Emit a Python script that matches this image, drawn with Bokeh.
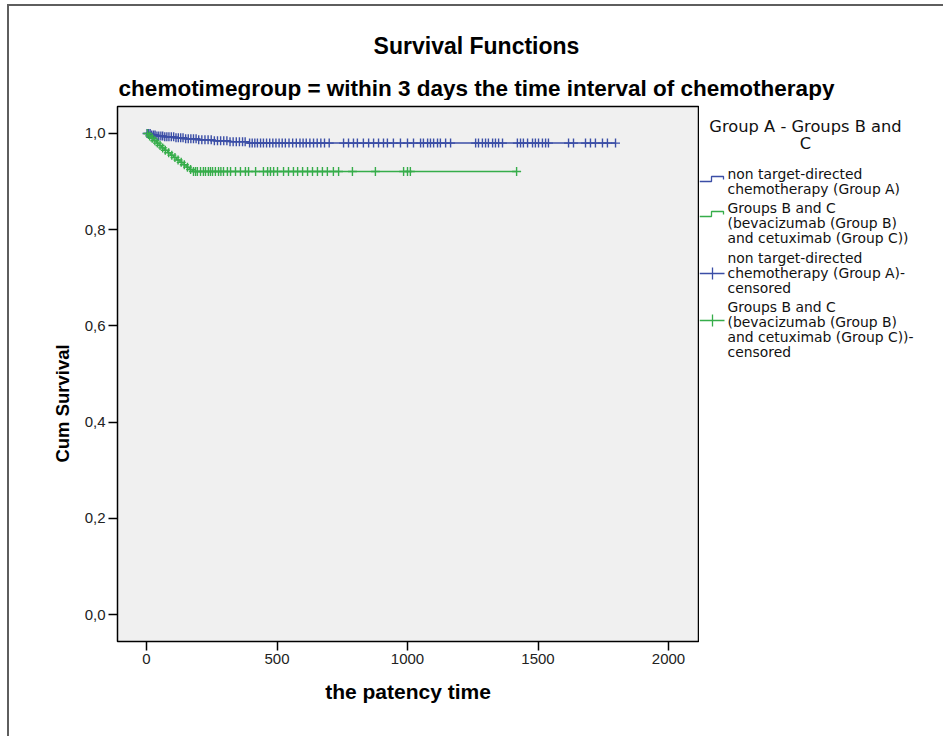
import numpy as np
from bokeh.plotting import figure
from bokeh.layouts import column, row
from bokeh.models import Range1d, FixedTicker, CustomJSTickFormatter
from bokeh.core.properties import value
from bokeh.embed import file_html
from bokeh.resources import INLINE

# ---------------- data ----------------
# Group A: non target-directed chemotherapy -- Kaplan-Meier steps
a_step_time = [0, 15, 40, 70, 110, 150, 200, 260, 320, 385]
a_step_surv = [1.0, 0.997, 0.995, 0.993, 0.991, 0.989, 0.987, 0.985, 0.983, 0.980]
a_censored = [2, 8, 14, 20, 27, 33, 40, 47, 55, 62, 70, 78, 86, 95, 104, 113, 122,
              131, 140, 150, 160, 170, 180, 190, 200, 212, 224, 236, 248, 260, 272,
              284, 296, 308, 320, 332, 344, 356, 368, 378,
              395, 405, 415, 425, 437, 448, 460, 472, 484, 496, 508, 520, 532, 546,
              560, 574, 588, 600, 612, 626, 640, 654, 668, 682, 700, 755, 774, 793,
              808, 831, 851, 870, 889, 908, 923, 946, 973, 1000, 1023, 1050, 1061,
              1077, 1088, 1100, 1115, 1126, 1146, 1165, 1261, 1272, 1287, 1299, 1310,
              1326, 1337, 1349, 1364, 1421, 1433, 1444, 1460, 1479, 1490, 1502, 1517,
              1529, 1540, 1617, 1636, 1682, 1701, 1720, 1747, 1766, 1797]

# Groups B and C: bevacizumab / cetuximab
b_step_time = [0, 8, 18, 28, 38, 48, 58, 68, 80, 92, 104, 116, 128, 140, 152, 164, 176]
b_step_surv = [1.0, 0.995, 0.990, 0.985, 0.980, 0.975, 0.970, 0.965, 0.960, 0.955,
               0.950, 0.945, 0.940, 0.935, 0.930, 0.925, 0.921]
b_censored = [4, 12, 22, 32, 42, 52, 62, 72, 85, 97, 109, 121, 133, 145, 157, 169,
              180, 188, 195, 207, 218, 226, 237, 245, 253, 264, 276, 285, 295, 310,
              322, 341, 360, 379, 391, 418, 448, 464, 475, 487, 502, 525, 544, 563,
              579, 598, 617, 636, 655, 674, 693, 716, 736, 789, 877, 985, 1000, 1011,
              1418]

y_ticks = [0.0, 0.2, 0.4, 0.6, 0.8, 1.0]
x_ticks = [0, 500, 1000, 1500, 2000]

title_text = "Survival Functions"
subtitle_text = "chemotimegroup = within 3 days the time interval of chemotherapy"
x_label = "the patency time"
y_label = "Cum Survival"
legend_title = ["Group A - Groups B and", "C"]
legend_entries = [
    ["non target-directed", "chemotherapy (Group A)"],
    ["Groups B and C", "(bevacizumab (Group B)", "and cetuximab (Group C))"],
    ["non target-directed", "chemotherapy (Group A)-", "censored"],
    ["Groups B and C", "(bevacizumab (Group B)", "and cetuximab (Group C))-", "censored"],
]

BLUE = "#3b4ea6"
GREEN = "#36ad4a"
FONT = "Liberation Sans"
LEGEND_FONT = "DejaVu Sans"

# page pixel geometry (canvas placed at page x=9, y=6)
OX, OY = 9, 6
TOTAL_W = 934
TITLE_H = 94
ROW_TOP = OY + TITLE_H          # 100
ROW_H = 636
YL_RIGHT = 80
MAIN_RIGHT = 699
RIGHT_END = OX + TOTAL_W
BOTTOM = ROW_TOP + ROW_H        # 736
FRAME_L, FRAME_R, FRAME_T, FRAME_B = 117, 698, 106, 641


def blank(x0, x1, width, height, y_top, y_bottom, b_top=0, b_bottom=0):
    f = figure(width=width, height=height, output_backend="svg", toolbar_location=None,
               x_range=Range1d(x0, x1), y_range=Range1d(y_bottom, y_top),
               x_axis_location=None, y_axis_location=None,
               min_border=0, min_border_left=0, min_border_right=0,
               min_border_top=b_top, min_border_bottom=b_bottom)
    f.outline_line_color = None
    f.grid.visible = False
    f.background_fill_color = "white"
    f.border_fill_color = "white"
    return f


# ---------------- title strip ----------------
tf = blank(OX, RIGHT_END, TOTAL_W, TITLE_H, OY, ROW_TOP)
tf.text(x=[476], y=[45], text=[title_text],
        text_align="center", text_baseline="middle", text_font=value(FONT),
        text_font_size="23px", text_font_style="bold", text_color="black")
tf.text(x=[476], y=[88], text=[subtitle_text],
        text_align="center", text_baseline="middle", text_font=value(FONT),
        text_font_size="22.5px", text_font_style="bold", text_color="black")

# ---------------- y label strip (frame aligned with main frame) ----------------
yf = blank(OX, YL_RIGHT, YL_RIGHT - OX, ROW_H, FRAME_T, FRAME_B,
           FRAME_T - ROW_TOP, BOTTOM - FRAME_B)
yf.text(x=[62], y=[403], text=[y_label], angle=np.pi / 2, text_align="center",
        text_baseline="middle", text_font=value(FONT), text_font_size="18.5px",
        text_font_style="bold", text_color="black")

# ---------------- main plot ----------------
X0, X1 = -111.1, 2114.9
Y0, Y1 = -0.0561, 1.0561

p = figure(width=MAIN_RIGHT - YL_RIGHT, height=ROW_H, output_backend="svg",
           toolbar_location=None, x_range=Range1d(X0, X1), y_range=Range1d(Y0, Y1),
           min_border_left=FRAME_L - YL_RIGHT, min_border_right=MAIN_RIGHT - FRAME_R,
           min_border_top=FRAME_T - ROW_TOP, min_border_bottom=BOTTOM - FRAME_B)
p.background_fill_color = "#f0f0f0"
p.border_fill_color = "white"
p.outline_line_color = "black"
p.outline_line_width = 1.5
p.grid.visible = False

p.xaxis.ticker = FixedTicker(ticks=x_ticks)
p.yaxis.ticker = FixedTicker(ticks=y_ticks)
p.yaxis.formatter = CustomJSTickFormatter(code="return tick.toFixed(1).replace('.', ',');")
for ax in (p.xaxis, p.yaxis):
    ax.minor_tick_line_color = None
    ax.major_tick_in = 0
    ax.major_tick_out = 9
    ax.major_tick_line_width = 1.5
    ax.major_tick_line_color = "black"
    ax.axis_line_color = None
    ax.major_label_text_font = FONT
    ax.major_label_text_font_size = "15px"
    ax.major_label_text_color = "#222222"
    ax.major_label_standoff = 3
p.xaxis.axis_label = x_label
p.xaxis.axis_label_text_font = FONT
p.xaxis.axis_label_text_font_style = "bold"
p.xaxis.axis_label_text_color = "black"
p.xaxis.axis_label_text_font_size = "21px"
p.xaxis.axis_label_standoff = 13


def km_value(times, survs, t):
    idx = np.searchsorted(np.array(times), np.array(t), side="right") - 1
    return np.array(survs)[idx]


for st, ss, cen, col in ((a_step_time, a_step_surv, a_censored, BLUE),
                         (b_step_time, b_step_surv, b_censored, GREEN)):
    xs = list(st) + [max(cen)]
    ys = list(ss) + [ss[-1]]
    p.step(xs, ys, mode="after", line_color=col, line_width=1.5)
    p.scatter(cen, km_value(st, ss, cen), marker="cross", size=9,
              line_color=col, line_width=1.4)

# ---------------- legend strip (frame aligned with main frame) ----------------
lf = blank(MAIN_RIGHT, RIGHT_END, RIGHT_END - MAIN_RIGHT, ROW_H, FRAME_T, FRAME_B,
           FRAME_T - ROW_TOP, BOTTOM - FRAME_B)
lf.text(x=[805, 805], y=[126, 143], text=legend_title, text_align="center",
        text_baseline="middle", text_font=value(LEGEND_FONT), text_font_size="16.3px",
        text_color="#111111")

entry_first_y = [173, 207, 257, 306]
lx, ly, lt = [], [], []
for lines, y0 in zip(legend_entries, entry_first_y):
    for j, line in enumerate(lines):
        lx.append(727)
        ly.append(y0 + 15.3 * j)
        lt.append(line)
lf.text(x=lx, y=ly, text=lt, text_align="left", text_baseline="middle",
        text_font=value(LEGEND_FONT), text_font_size="13.9px", text_color="#111111")

# legend icons: step shapes and censor crosses
for yb, yt, col in ((181, 176, BLUE), (216, 211, GREEN)):
    lf.line([699, 711, 711, 723, 723], [yb, yb, yt, yt, yt + 3], line_color=col, line_width=1.3)
for yc, col in ((273, BLUE), (320, GREEN)):
    lf.line([699, 724], [yc, yc], line_color=col, line_width=1.3)
    lf.line([712, 712], [yc - 6, yc + 6], line_color=col, line_width=1.3)

layout = column(tf, row(yf, p, lf))
layout.styles = {"border-left": "2px solid #5e5e5e", "border-top": "2px solid #5e5e5e",
                 "margin-left": "7px", "margin-top": "4px"}

open("out.html", "w").write(file_html(layout, INLINE))
